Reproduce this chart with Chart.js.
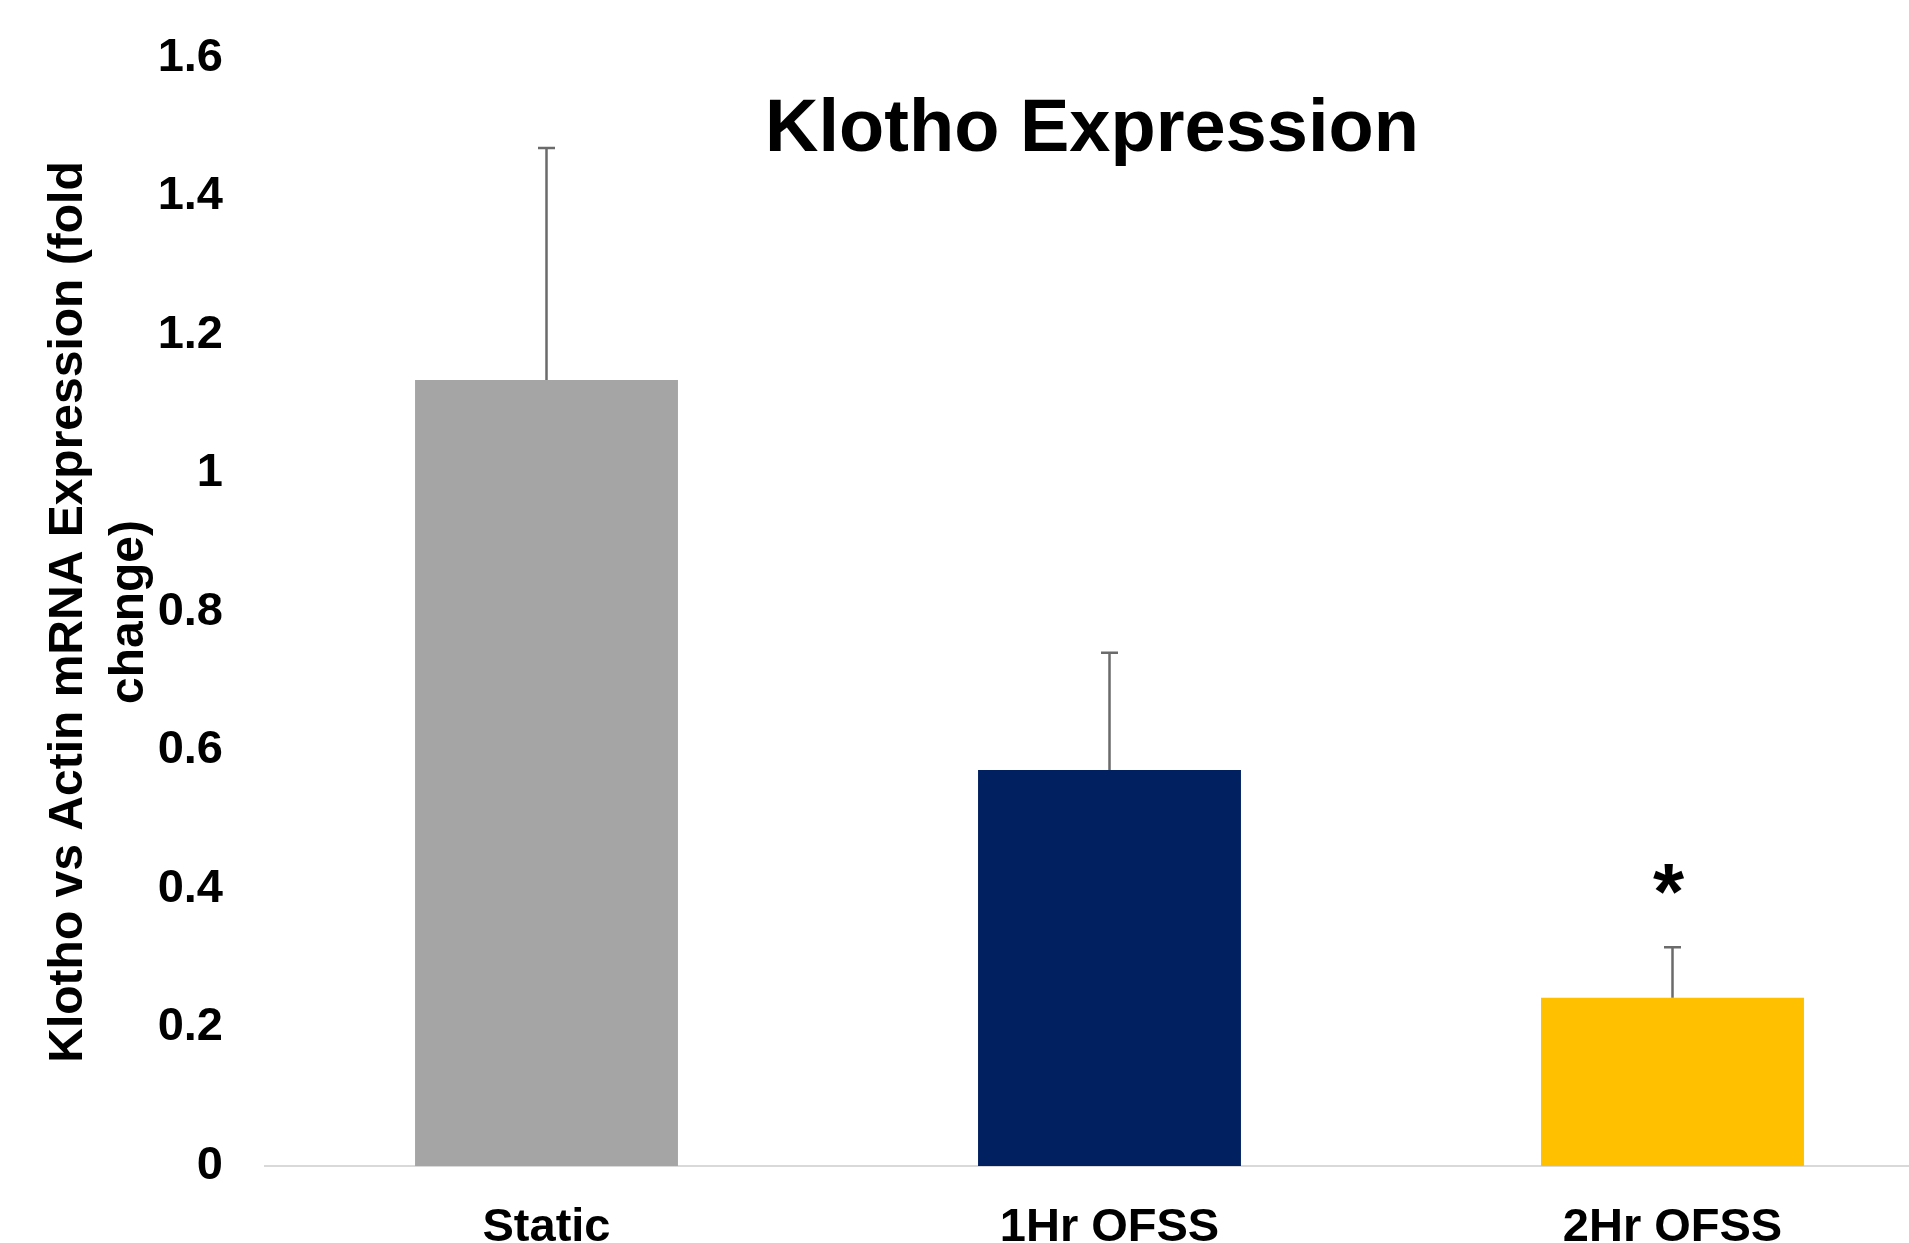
<!DOCTYPE html>
<html>
<head>
<meta charset="utf-8">
<script src="https://cdn.jsdelivr.net/npm/chart.js@4.4.1/dist/chart.umd.min.js"></script>
<style>
  html, body { margin: 0; padding: 0; background: #ffffff; overflow: hidden; }
  #wrap { position: relative; width: 1909px; height: 1243px; overflow: hidden; background: #ffffff; }
  #c { position: absolute; left: 0; top: 0; }
</style>
</head>
<body>
<div id="wrap"><canvas id="c" width="1954" height="1266"></canvas></div>
<script>
// Klotho vs actin mRNA expression, fold change (mean and upper SE)
const categories = ['Static', '1Hr OFSS', '2Hr OFSS'];
const foldChange = [1.135, 0.572, 0.243];
const errorUp = [0.335, 0.169, 0.073];
const barColors = ['#a5a5a5', '#002060', '#ffc000'];
const significance = ['', '', '*'];
const yMax = 1.6;
const yStep = 0.2;

const chartTitle = 'Klotho Expression';
const yTitle = ['Klotho vs Actin mRNA Expression (fold', 'change)'];

const FONT = '"Liberation Sans", Arial, Helvetica, sans-serif';

// Upper error bars with caps, plus significance marks
const errorBars = {
  id: 'errorBars',
  afterDatasetsDraw(chart) {
    const { ctx, scales: { y } } = chart;
    const meta = chart.getDatasetMeta(0);
    ctx.save();
    meta.data.forEach((bar, i) => {
      const yTop = y.getPixelForValue(foldChange[i] + errorUp[i]);
      const yBase = y.getPixelForValue(foldChange[i]);
      ctx.strokeStyle = '#6b6b6b';
      ctx.lineWidth = 2.5;
      ctx.beginPath();
      ctx.moveTo(bar.x, yBase);
      ctx.lineTo(bar.x, yTop);
      ctx.moveTo(bar.x - 8.5, yTop);
      ctx.lineTo(bar.x + 8.5, yTop);
      ctx.stroke();
      if (significance[i]) {
        ctx.fillStyle = '#000000';
        ctx.font = 'bold 80px ' + FONT;
        ctx.textAlign = 'center';
        ctx.textBaseline = 'alphabetic';
        ctx.fillText(significance[i], bar.x - 4, yTop - 28);
      }
    });
    ctx.restore();
  }
};

// Title drawn inside the plot area
const innerTitle = {
  id: 'innerTitle',
  afterDraw(chart) {
    const { ctx, chartArea } = chart;
    ctx.save();
    ctx.fillStyle = '#000000';
    ctx.font = 'bold 74px ' + FONT;
    ctx.textAlign = 'center';
    ctx.textBaseline = 'alphabetic';
    ctx.fillText(chartTitle, chartArea.left + 827, chartArea.top + 93);
    ctx.restore();
  }
};

new Chart(document.getElementById('c'), {
  type: 'bar',
  data: {
    labels: categories,
    datasets: [{
      data: foldChange,
      backgroundColor: barColors,
      borderWidth: 0,
      categoryPercentage: 1.0,
      barPercentage: 0.467
    }]
  },
  options: {
    responsive: false,
    animation: false,
    layout: { padding: { top: 58, left: 0, right: 0, bottom: 0 } },
    plugins: {
      legend: { display: false },
      tooltip: { enabled: false },
      title: { display: false }
    },
    scales: {
      x: {
        grid: { display: false, drawTicks: false },
        border: { display: true, color: '#d9d9d9', width: 2 },
        ticks: {
          color: '#000000',
          font: { family: FONT, size: 47, weight: 'bold' },
          padding: 34,
          maxRotation: 0
        },
        afterFit(scale) { scale.height = 100; }
      },
      y: {
        min: 0,
        max: yMax,
        grid: { display: false, drawTicks: false },
        border: { display: false },
        ticks: {
          stepSize: yStep,
          color: '#000000',
          font: { family: FONT, size: 47, weight: 'bold' },
          padding: 42,
          callback: (v) => String(Number(v.toFixed(1)))
        },
        title: {
          display: true,
          text: yTitle,
          color: '#000000',
          font: { family: FONT, size: 48, weight: 'bold', lineHeight: 1.27 },
          padding: { top: 38, bottom: 0 }
        },
        afterFit(scale) {
          scale.width = 265;
          scale.paddingTop = 0;
          scale.paddingBottom = 0;
        }
      }
    }
  },
  plugins: [errorBars, innerTitle]
});
</script>
</body>
</html>
